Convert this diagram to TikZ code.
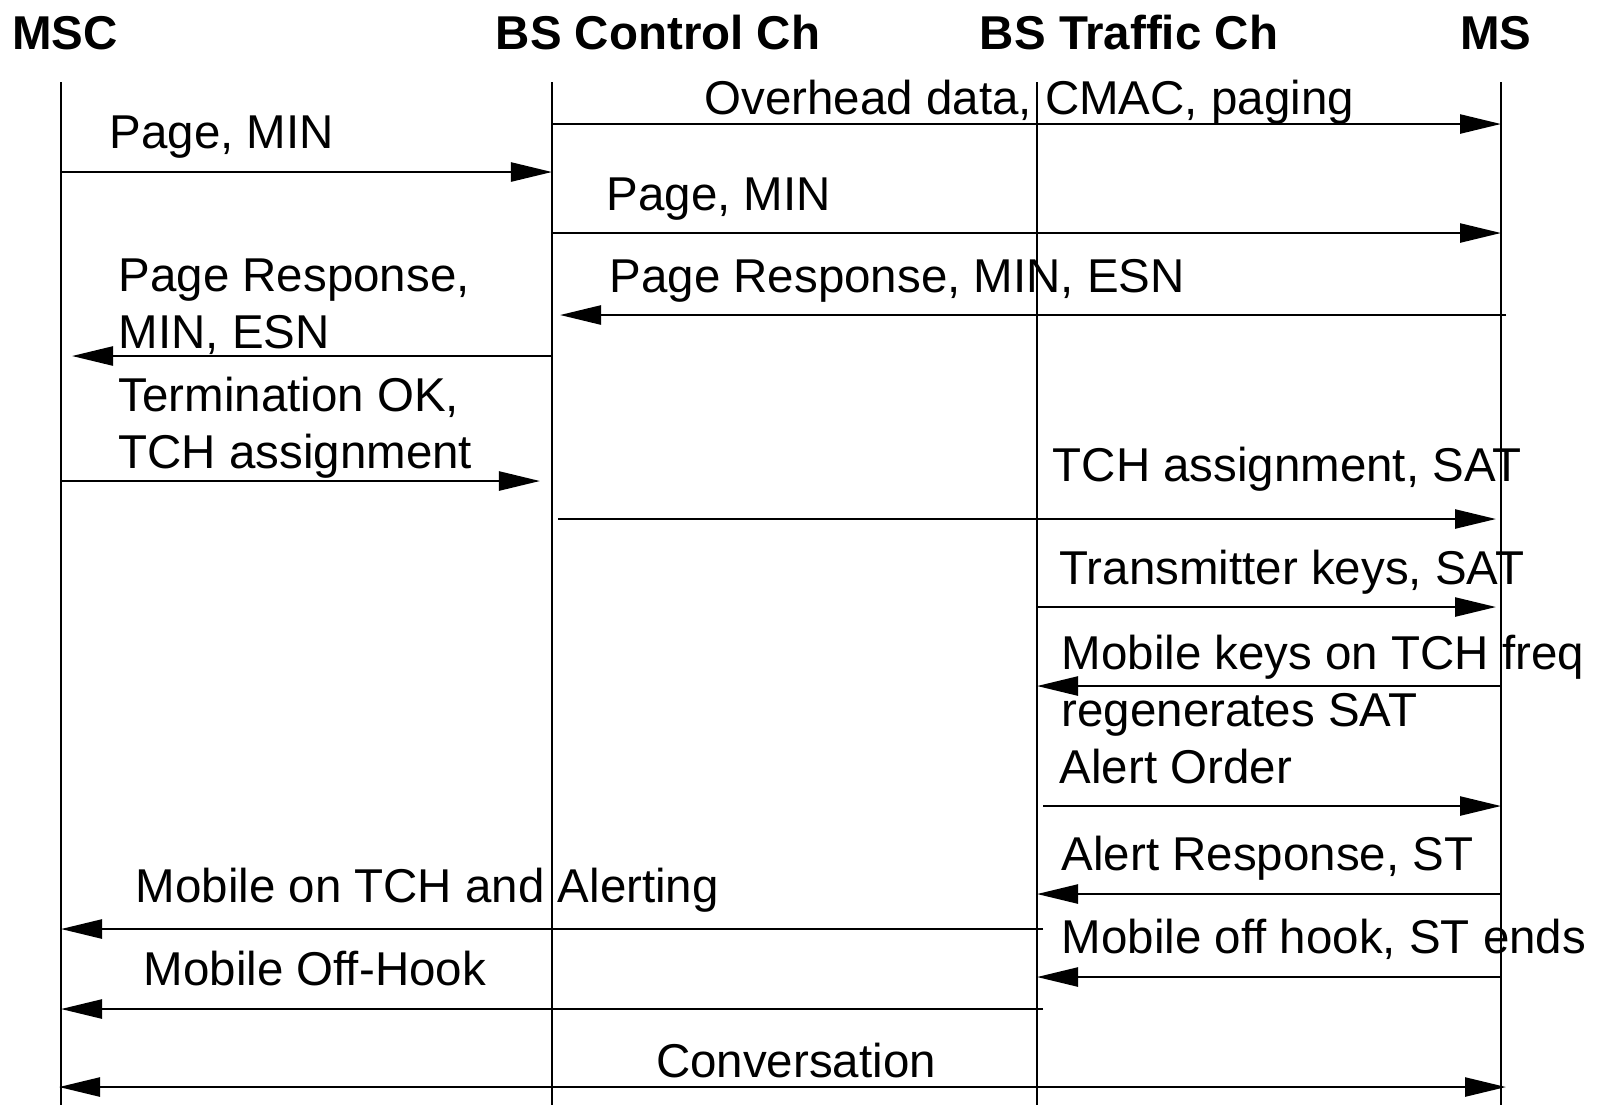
\documentclass[tikz,border=0pt]{standalone}
\usepackage{fontspec}
\setmainfont{Liberation Sans}
\usetikzlibrary{arrows.meta}

\tikzset{
  head/.style={font=\fontsize{13.5}{16.2}\selectfont\bfseries, inner sep=0pt, anchor=base},
  lbl/.style={font=\fontsize{13.5}{16.2}\selectfont, inner sep=0pt, anchor=base west, align=left},
  life/.style={line width=0.6pt},
  msg/.style={line width=0.7pt, -{Triangle[length=0.41cm,width=0.19cm]}},
}

\begin{document}
\begin{tikzpicture}[x=0.01cm,y=-0.01cm]
\useasboundingbox (0,0) rectangle (1604,1105);
% lifelines
\coordinate (msc) at (61,82);
\coordinate (bsc) at (552,82);
\coordinate (bst) at (1037,82);
\coordinate (ms) at (1501,82);
\foreach \c in {msc,bsc,bst,ms}
  \draw[life] (\c) -- (\c |- 0,1105);
\node[head] (mschd) at (65,49) {MSC};
\node[head] (bschd) at (658,49) {BS Control Ch};
\node[head] (bsthd) at (1129,49) {BS Traffic Ch};
\node[head] (mshd) at (1496,49) {MS};

% messages (two-line labels sit on the baseline of their last line)
\draw[msg] (bsc |- 0,124) -- (ms |- 0,124);
\node[lbl] (l1) at (704,114) {Overhead data, CMAC, paging};
\draw[msg] (msc |- 0,172) -- (bsc |- 0,172);
\node[lbl] (l2) at (109,148) {Page, MIN};
\draw[msg] (bsc |- 0,233) -- (ms |- 0,233);
\node[lbl] (l3) at (606,210) {Page, MIN};
\draw[msg, shorten <=-0.05cm, shorten >=0.08cm] (ms |- 0,315) -- (bsc |- 0,315);
\node[lbl] (l4) at (609,292) {Page Response, MIN, ESN};
\draw[msg, shorten >=0.11cm] (bsc |- 0,356) -- (msc |- 0,356);
\node[lbl] (l5) at (118,348) {Page Response,\\MIN, ESN};
\draw[msg, shorten >=0.12cm] (msc |- 0,481) -- (bsc |- 0,481);
\node[lbl] (l6) at (118,468) {Termination OK,\\TCH assignment};
\draw[msg, shorten <=0.06cm, shorten >=0.05cm] (bsc |- 0,519) -- (ms |- 0,519);
\node[lbl] (l7) at (1052,481) {TCH assignment, SAT};
\draw[msg, shorten >=0.05cm] (bst |- 0,607) -- (ms |- 0,607);
\node[lbl] (l8) at (1059,584) {Transmitter keys, SAT};
\draw[msg] (ms |- 0,686) -- (bst |- 0,686);
\node[lbl] (l9) at (1061,726) {Mobile keys on TCH freq\\regenerates SAT};
\draw[msg, shorten <=0.06cm] (bst |- 0,806) -- (ms |- 0,806);
\node[lbl] (l10) at (1059,783) {Alert Order};
\draw[msg] (ms |- 0,894) -- (bst |- 0,894);
\node[lbl] (l11) at (1061,870) {Alert Response, ST};
\draw[msg, shorten <=-0.06cm] (bst |- 0,929) -- (msc |- 0,929);
\node[lbl] (l12) at (135,902) {Mobile on TCH and Alerting};
\draw[msg] (ms |- 0,977) -- (bst |- 0,977);
\node[lbl] (l13) at (1061,953) {Mobile off hook, ST ends};
\draw[msg, shorten <=-0.06cm] (bst |- 0,1009) -- (msc |- 0,1009);
\node[lbl] (l14) at (143,985) {Mobile Off-Hook};
\draw[msg, {Triangle[length=0.41cm,width=0.19cm]}-{Triangle[length=0.41cm,width=0.19cm]},
  shorten <=-0.02cm, shorten >=-0.05cm] (msc |- 0,1087) -- (ms |- 0,1087);
\node[lbl, anchor=base] (l15) at (796,1077) {Conversation};
\end{tikzpicture}
\end{document}
